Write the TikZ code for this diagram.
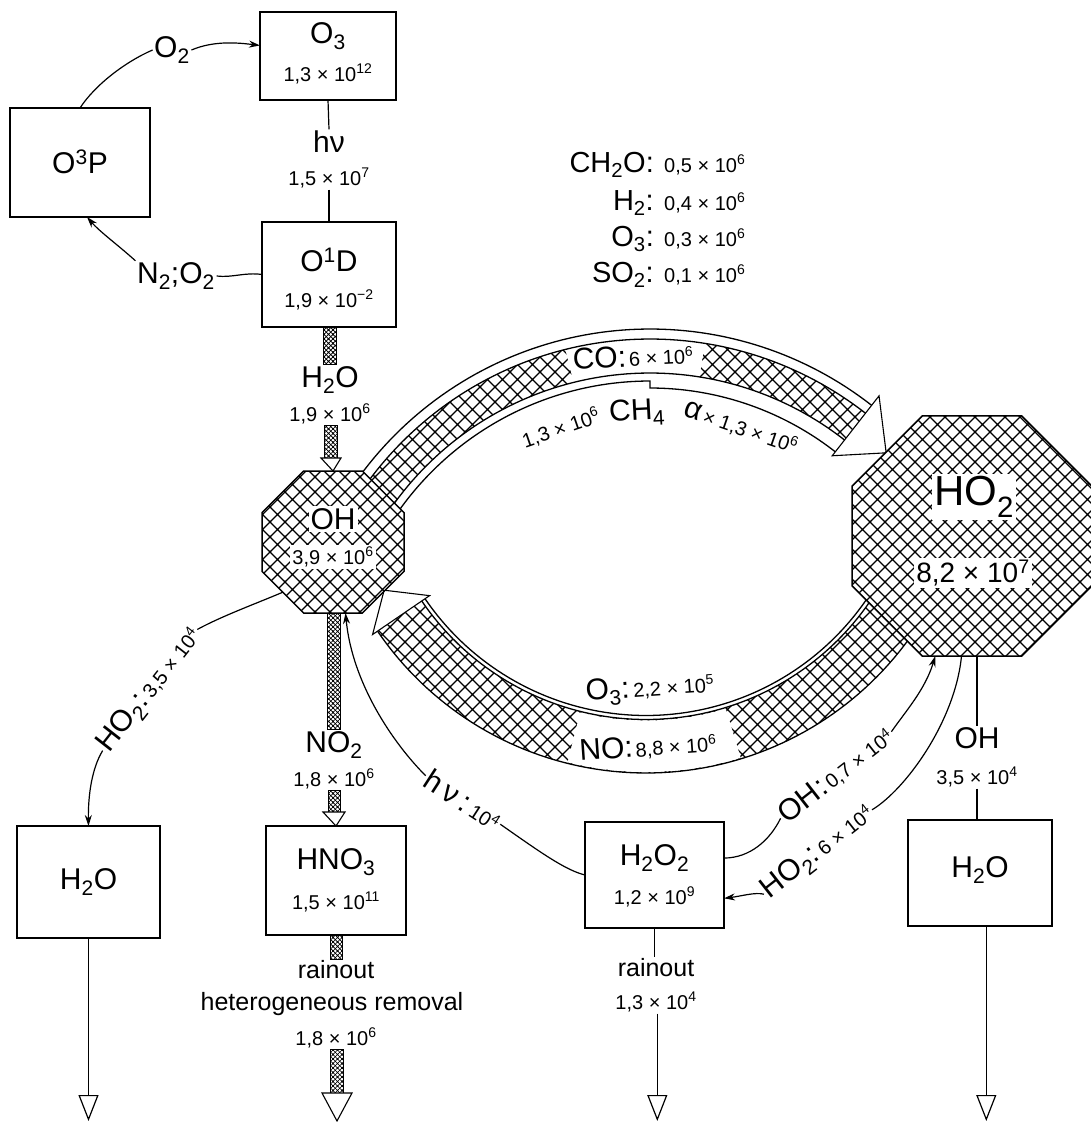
\documentclass[tikz,border=0pt]{standalone}
\usepackage{fontspec}
\setmainfont{Liberation Sans}
\usetikzlibrary{arrows.meta,shapes.geometric,patterns,calc}
\pgfdeclarepatternformonly{bigx}{\pgfqpoint{-1pt}{-1pt}}{\pgfqpoint{16pt}{16pt}}{\pgfqpoint{15pt}{15pt}}{%
  \pgfsetlinewidth{1.25pt}%
  \pgfpathmoveto{\pgfqpoint{-1pt}{-1pt}}\pgfpathlineto{\pgfqpoint{16pt}{16pt}}%
  \pgfpathmoveto{\pgfqpoint{-1pt}{16pt}}\pgfpathlineto{\pgfqpoint{16pt}{-1pt}}%
  \pgfusepath{stroke}}
\pgfdeclarepatternformonly{smallx}{\pgfqpoint{-1pt}{-1pt}}{\pgfqpoint{5.5pt}{5.5pt}}{\pgfqpoint{4.5pt}{4.5pt}}{%
  \pgfsetlinewidth{0.7pt}%
  \pgfpathmoveto{\pgfqpoint{-1pt}{-1pt}}\pgfpathlineto{\pgfqpoint{5.5pt}{5.5pt}}%
  \pgfpathmoveto{\pgfqpoint{-1pt}{5.5pt}}\pgfpathlineto{\pgfqpoint{5.5pt}{-1pt}}%
  \pgfusepath{stroke}}
\newcommand\fsA{\fontsize{30}{34}\selectfont}
\newcommand\fsB{\fontsize{20}{24}\selectfont}
\newcommand\fsL{\fontsize{29}{33}\selectfont}
\newcommand\fsT{\fontsize{25}{29}\selectfont}
\newcommand\fsH{\fontsize{42}{46}\selectfont}
\newcommand\fsHn{\fontsize{28}{32}\selectfont}
\newcommand\tpow[1]{10\textsuperscript{#1}}
\newcommand\sbs[1]{\textsubscript{#1}}
\begin{document}
\begin{tikzpicture}[x=1pt,y=-1pt,
  box/.style={draw, line width=1.4pt, inner sep=0pt, outer sep=0pt},
  txt/.style={inner sep=1.5pt},
  lbl/.style={fill=white, inner sep=2pt},
  conn/.style={line width=1.2pt},
  arr/.style={conn, -{Stealth[length=11pt,width=7pt]}},
  hbar/.style={draw, line width=0.9pt, pattern=smallx, preaction={fill=white}},
  openhead/.style={draw, line width=1.1pt, fill=white},
  downarr/.style={conn, -{Triangle[open,length=26pt,width=20pt]}},
  oct/.style={regular polygon, regular polygon sides=8, draw, line width=1.5pt,
              preaction={fill=white}, pattern=bigx, inner sep=0pt, outer sep=0pt},
  bline/.style={line width=1.3pt}]
\fill[white] (0,0) rectangle (1090,1122);
\useasboundingbox (0,0) rectangle (1090,1122);

% ---------- upper band (OH -> HO2) ----------
\fill[pattern=bigx] plot[domain=150:52,samples=80] ({650+350*cos(\x)},{689-350*sin(\x)})
   -- plot[domain=52:150,samples=80] ({650+316*cos(\x)},{689-316*sin(\x)}) -- cycle;
\fill[white] plot[domain=104:81,samples=30] ({650+351*cos(\x)},{689-351*sin(\x)})
   -- plot[domain=81:104,samples=30] ({650+315*cos(\x)},{689-315*sin(\x)}) -- cycle;
\draw[bline] plot[domain=150:52,samples=80] ({650+360*cos(\x)},{689-360*sin(\x)});
\draw[bline] plot[domain=150:52,samples=80] ({650+350*cos(\x)},{689-350*sin(\x)});
\draw[bline] plot[domain=150:52,samples=80] ({650+316*cos(\x)},{689-316*sin(\x)});
\draw[bline] plot[domain=150:90,samples=60] ({650+308*cos(\x)},{689-308*sin(\x)})
   -- plot[domain=90:52,samples=40] ({650+301*cos(\x)},{689-301*sin(\x)});
\coordinate (ua1) at ({650+296*cos(52)},{689-296*sin(52)});
\coordinate (ua2) at ({650+334*cos(45)},{689-334*sin(45)});
\coordinate (ua3) at ({650+372*cos(52)},{689-372*sin(52)});
\draw[openhead] (ua1) -- (ua2) -- (ua3) -- cycle;

% ---------- lower band (HO2 -> OH) ----------
\fill[pattern=bigx] plot[domain=214.3:330,samples=80] ({646+325*cos(\x)},{448-325*sin(\x)})
   -- plot[domain=330:214.3,samples=80] ({646+271.5*cos(\x)},{448-271.5*sin(\x)}) -- cycle;
\fill[white] plot[domain=256:287,samples=30] ({646+324*cos(\x)},{448-324*sin(\x)})
   -- plot[domain=287:256,samples=30] ({646+272.5*cos(\x)},{448-272.5*sin(\x)}) -- cycle;
\draw[bline] plot[domain=214.3:330,samples=80] ({646+325*cos(\x)},{448-325*sin(\x)});
\draw[bline] plot[domain=214.3:330,samples=80] ({646+271.5*cos(\x)},{448-271.5*sin(\x)});
\draw[bline] plot[domain=214.3:330,samples=80] ({646+267.5*cos(\x)},{448-267.5*sin(\x)});
\coordinate (la1) at ({646+262*cos(214.3)},{448-262*sin(214.3)});
\coordinate (la2) at ({646+298*cos(208.5)},{448-298*sin(208.5)});
\coordinate (la3) at ({646+331*cos(214.3)},{448-331*sin(214.3)});
\draw[openhead] (la1) -- (la2) -- (la3) -- cycle;

% ---------- octagons ----------
\node[oct, minimum size=153.7pt] (oh) at (333,542) {};
\node[oct, minimum size=259.8pt] (ho2) at (972,536) {};
\node[lbl] (ohtxt) at (333,519) {\fsA OH};
\node[lbl] (ohnum) at (333,557) {\fsB 3,9 × \tpow{6}};
\node[lbl] (ho2txt) at (974,497) {\fsH HO\sbs{2}};
\node[lbl] (ho2num) at (973,573) {\fsHn 8,2 × \tpow{7}};

% band labels
\node[txt, rotate=3] (co) at (633,356) {{\fsA CO:} {\fsB 6 × \tpow{6}}};
\node[txt, rotate=19] (ch4a) at (561,428) {\fsB 1,3 × \tpow{6}};
\node[txt, rotate=3] (ch4b) at (637,413) {\fsA CH\sbs{4}};
\node[txt, rotate=-19] (ch4c) at (741,428) {{\fsA α} {\fsB × 1,3 × \tpow{6}}};
\node[txt, rotate=4] (o3f) at (650,689) {{\fsA O\sbs{3}:} {\fsB 2,2 × \tpow{5}}};
\node[txt, rotate=4] (nof) at (648,747) {{\fsA NO:} {\fsB 8,8 × \tpow{6}}};

% flux list
\node[anchor=base east, inner sep=0pt] (sp1) at (654,172) {\fsL CH\sbs{2}O:};
\node[anchor=base west, inner sep=0pt] (nm1) at (664,172) {\fsB 0,5 × \tpow{6}};
\node[anchor=base east, inner sep=0pt] (sp2) at (654,210) {\fsL H\sbs{2}:};
\node[anchor=base west, inner sep=0pt] (nm2) at (664,210) {\fsB 0,4 × \tpow{6}};
\node[anchor=base east, inner sep=0pt] (sp3) at (654,246) {\fsL O\sbs{3}:};
\node[anchor=base west, inner sep=0pt] (nm3) at (664,246) {\fsB 0,3 × \tpow{6}};
\node[anchor=base east, inner sep=0pt] (sp4) at (654,282) {\fsL SO\sbs{2}:};
\node[anchor=base west, inner sep=0pt] (nm4) at (664,282) {\fsB 0,1 × \tpow{6}};

% ---------- boxes ----------
\node[box, minimum width=136pt, minimum height=88pt] (o3) at (328,56) {};
\node[txt] (o3t) at (328,36) {\fsA O\sbs{3}};
\node[txt] (o3n) at (328,74) {\fsB 1,3 × \tpow{12}};
\node[box, minimum width=140pt, minimum height=109pt] (o3p) at (80,162.5) {};
\node[txt] (o3pt) at (80,162) {\fsA O\textsuperscript{3}P};
\node[box, minimum width=134pt, minimum height=105pt] (o1d) at (329,274.5) {};
\node[txt] (o1dt) at (329,260) {\fsA O\textsuperscript{1}D};
\node[txt] (o1dn) at (329,300) {\fsB 1,9 × \tpow{−2}};
\node[box, minimum width=143pt, minimum height=112pt] (h2ol) at (88.5,882) {};
\node[txt] (h2olt) at (88.5,882) {\fsA H\sbs{2}O};
\node[box, minimum width=140pt, minimum height=109pt] (hno3) at (336,880.5) {};
\node[txt] (hno3t) at (336,862) {\fsA HNO\sbs{3}};
\node[txt] (hno3n) at (336,902) {\fsB 1,5 × \tpow{11}};
\node[box, minimum width=139pt, minimum height=106pt] (h2o2) at (654.5,875) {};
\node[txt] (h2o2t) at (654.5,858) {\fsA H\sbs{2}O\sbs{2}};
\node[txt] (h2o2n) at (654.5,897) {\fsB 1,2 × \tpow{9}};
\node[box, minimum width=144pt, minimum height=106pt] (h2or) at (980,873) {};
\node[txt] (h2ort) at (980,870) {\fsA H\sbs{2}O};

% ---------- O3 / O3P / O1D cycle ----------
\node[txt] (hv) at (329,142) {\fsA hν};
\node[txt] (n15) at (329,178) {\fsB 1,5 × \tpow{7}};
\draw[conn] (o3.south) -- (hv.north);
\draw[conn] (n15.south) -- (o1d.north);
\node[txt] (o2) at (172,50) {\fsA O\sbs{2}};
\draw[conn] (o3p.north) .. controls (95,85) and (125,62) .. (o2.west);
\draw[arr] (o2.east) .. controls (215,40) and (240,43) .. ($(o3.north west)!0.38!(o3.south west)$);
\node[txt] (n2o2) at (176,276) {\fsA N\sbs{2};O\sbs{2}};
\draw[conn] (o1d.west) .. controls (245,272) and (232,278) .. (n2o2.east);
\draw[arr] (n2o2.north west) .. controls (118,245) and (100,232) .. ($(o3p.south west)!0.55!(o3p.south east)$);

% ---------- O1D -> OH ----------
\node[txt] (fh2o) at (330,380) {\fsA H\sbs{2}O};
\node[txt] (n19) at (330,414) {\fsB 1,9 × \tpow{6}};
\draw[hbar] ([xshift=-6pt]o1d.south) rectangle ([xshift=6pt]fh2o.north);
\coordinate (t2) at (331,458);
\draw[hbar] ([xshift=-6pt]n19.south) rectangle ([xshift=6pt]t2);
\draw[openhead] ([xshift=-10pt]t2) -- ([xshift=10pt]t2) -- (oh.north) -- cycle;

% ---------- OH -> HNO3 ----------
\node[txt] (fno2) at (334,745) {\fsA NO\sbs{2}};
\node[txt] (n18) at (334,779) {\fsB 1,8 × \tpow{6}};
\draw[hbar] ([xshift=-6pt]oh.south) rectangle ([xshift=6pt]fno2.north);
\coordinate (t4) at (334,812);
\draw[hbar] ([xshift=-6pt]n18.south) rectangle ([xshift=6pt]t4);
\draw[openhead] ([xshift=-11pt]t4) -- ([xshift=11pt]t4) -- (hno3.north) -- cycle;

% HNO3 removal
\node[txt] (rain1) at (336,970) {\fsT rainout};
\node[txt] (het) at (332,1004) {\fsT heterogeneous removal};
\node[txt] (n18b) at (336,1038) {\fsB 1,8 × \tpow{6}};
\draw[hbar] ([xshift=-6pt]hno3.south) rectangle ([xshift=6pt]rain1.north);
\coordinate (t6) at (337,1093);
\draw[hbar] ([xshift=-6pt]n18b.south) rectangle ([xshift=6pt]t6);
\coordinate (t6e) at (337,1121);
\draw[openhead] ([xshift=-15pt]t6) -- ([xshift=15pt]t6) -- (t6e) -- cycle;

% ---------- OH -> H2O (left) ----------
\node[txt, rotate=52] (l1) at (150,690) {{\fsA HO\sbs{2}:} {\fsB 3,5 × \tpow{4}}};
\draw[conn] (oh.225) .. controls (255,604) and (222,616) .. (l1.east);
\draw[arr] (l1.west) .. controls (92,768) and (88,795) .. (h2ol.north);
\coordinate (e1) at (88.5,1121);
\draw[downarr] (h2ol.south) -- (e1);

% ---------- H2O2 -> OH (hv) ----------
\node[txt, rotate=-33] (l2) at (463,800) {{\fsA h\,ν\,:}\hspace{5pt}{\fsB \tpow{4}}};
\draw[conn] (h2o2.west) .. controls (565,870) and (540,852) .. (l2.east);
\draw[arr] (l2.west) .. controls (392,742) and (352,682) .. (oh.-80);

% ---------- H2O2 <-> HO2 ----------
\node[txt, rotate=38] (l3) at (836,775) {{\fsA OH:} {\fsB 0,7 × \tpow{4}}};
\draw[conn] ($(h2o2.north east)!0.34!(h2o2.south east)$) .. controls (750,858) and (770,840) .. (l3.west);
\draw[arr] (l3.east) .. controls (905,712) and (925,690) .. (ho2.253);
\node[txt, rotate=38] (l4) at (818,852) {{\fsA HO\sbs{2}:} {\fsB 6 × \tpow{4}}};
\draw[conn] (ho2.265) .. controls (955,722) and (905,790) .. (l4.east);
\draw[arr] (l4.west) .. controls (755,892) and (742,896) .. ($(h2o2.north east)!0.72!(h2o2.south east)$);

% H2O2 rainout
\node[txt] (rain2) at (656,968) {\fsT rainout};
\node[txt] (n13) at (656,1002) {\fsB 1,3 × \tpow{4}};
\draw[conn] (h2o2.south) -- (h2o2.south |- rain2.north);
\coordinate (e3) at (657.3,1121);
\draw[downarr] (n13.south -| e3) -- (e3);

% ---------- HO2 -> H2O (right) ----------
\node[txt] (ohr) at (977,738) {\fsA OH};
\node[txt] (n35r) at (977,777) {\fsB 3,5 × \tpow{4}};
\draw[conn] (ho2.south -| ohr.north) -- (ohr.north);
\draw[conn] (n35r.south) -- (n35r.south |- h2or.north);
\coordinate (e4) at (986.3,1121);
\draw[downarr] (h2or.south -| e4) -- (e4);
\end{tikzpicture}
\end{document}
